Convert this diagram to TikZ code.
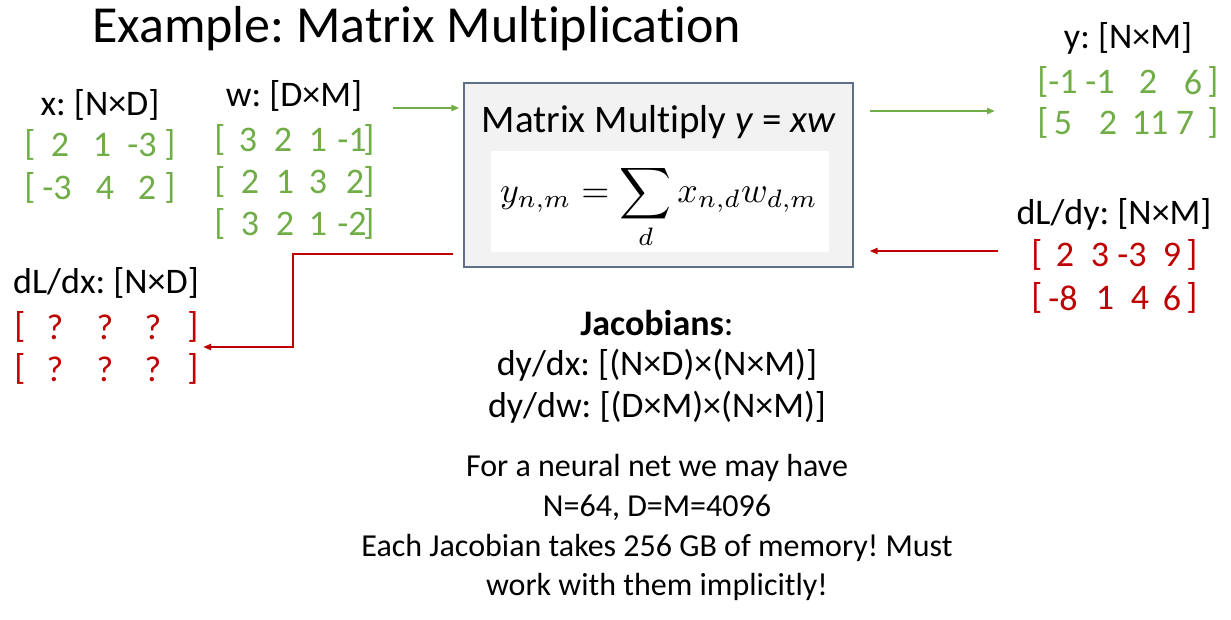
\documentclass[tikz,border=0pt]{standalone}
\usepackage{graphicx}
\usepackage{fontspec}
\setmainfont{Carlito}[Ligatures=NoCommon]
\usetikzlibrary{arrows.meta}
\definecolor{ggreen}{HTML}{70AD47}
\definecolor{rred}{HTML}{C00000}
\definecolor{boxline}{HTML}{5F6F8A}
\definecolor{boxfill}{HTML}{F2F2F2}
\frenchspacing
\begin{document}
\frenchspacing
\begin{tikzpicture}[x=1pt,y=-1pt,
  lbl/.style={font=\fontsize{36}{42}\selectfont, inner sep=0pt, anchor=center},
  gm/.style={lbl, text=ggreen},
  rm/.style={lbl, text=rred},
  jac/.style={font=\fontsize{36}{42}\selectfont, inner sep=0pt, anchor=center},
  note/.style={font=\fontsize{32}{38}\selectfont, inner sep=0pt, anchor=center},
  garrow/.style={draw=ggreen, line width=2pt, -{Triangle[length=8pt,width=6pt]}},
  rarrow/.style={draw=rred, line width=2pt, -{Triangle[length=8pt,width=6pt]}}]
\useasboundingbox (0,0) rectangle (1231,619);
\node[font=\fontsize{52}{60}\selectfont, inner sep=0pt, anchor=base west] (title) at (92,42) {Example: Matrix Multiplication};

% x
\node[lbl] (xl) at (100,105) {x: [N×D]};
\foreach \t/\xx [count=\i] in {{[}/30, 2/60, 1/102, -3/142, {]}/170}
  \node[gm, name=xa\i] at (\xx,145) {\t};
\foreach \t/\xx [count=\i] in {{[}/30, -3/57, 4/105, 2/147, {]}/170}
  \node[gm, name=xb\i] at (\xx,188) {\t};

% w
\node[lbl] (wl) at (294,96) {w: [D×M]};
\foreach \t/\xx [count=\i] in {{[}/220, 3/248, 2/283, 1/318, -1/352, {]}/369}
  \node[gm, name=wa\i] at (\xx,140) {\t};
\foreach \t/\xx [count=\i] in {{[}/220, 2/250, 1/285, 3/318, 2/355, {]}/369}
  \node[gm, name=wb\i] at (\xx,182) {\t};
\foreach \t/\xx [count=\i] in {{[}/220, 3/250, 2/285, 1/318, -2/352, {]}/369}
  \node[gm, name=wc\i] at (\xx,224) {\t};

% box
\node[draw=boxline, fill=boxfill, line width=1.2pt, minimum width=389pt, minimum height=184pt, inner sep=0pt] (box) at (658.5,175) {};
\node[fill=white, minimum width=338pt, minimum height=101pt, inner sep=0pt] (inner) at (660,201.5) {};
\node[font=\fontsize{39}{46}\selectfont, inner sep=0pt] (mm) at (659,122) {Matrix Multiply \textit{y} = \textit{xw}};
\node[inner sep=0pt] (formula) at (659,207) {\scalebox{3.6}{$\displaystyle y_{n,m}=\sum_d x_{n,d}w_{d,m}$}};

% y
\node[lbl] (yl) at (1128,38) {y: [N×M]};
\foreach \t/\xx [count=\i] in {{[}/1043, -1/1063, -1/1100, 2/1148, 6/1193, {]}/1213}
  \node[gm, name=ya\i] at (\xx,82) {\t};
\foreach \t/\xx [count=\i] in {{[}/1043, 5/1063, 2/1108, 11/1150, 7/1185, {]}/1213}
  \node[gm, name=yb\i] at (\xx,123) {\t};

% dL/dy
\node[lbl] (dyl) at (1114,214) {dL/dy: [N×M]};
\foreach \t/\xx [count=\i] in {{[}/1037, 2/1065, 3/1100, -3/1132, 9/1172, {]}/1192}
  \node[rm, name=dya\i] at (\xx,255) {\t};
\foreach \t/\xx [count=\i] in {{[}/1037, -8/1063, 1/1105, 4/1140, 6/1172, {]}/1192}
  \node[rm, name=dyb\i] at (\xx,298) {\t};

% dL/dx
\node[lbl] (dxl) at (106,283) {dL/dx: [N×D]};
\foreach \t/\xx [count=\i] in {{[}/20, ?/55, ?/105, ?/153, {]}/193}
  \node[rm, name=dxa\i] at (\xx,327) {\t};
\foreach \t/\xx [count=\i] in {{[}/20, ?/55, ?/105, ?/153, {]}/193}
  \node[rm, name=dxb\i] at (\xx,369) {\t};

% connectors
\coordinate (gin) at (393,108);
\draw[garrow] (gin) -- ([xshift=-4pt]gin -| box.west);
\coordinate (gout) at (870,111);
\coordinate (gend) at (995,111);
\draw[garrow] (gout) -- (gend);
\coordinate (rin) at (998,251);
\draw[rarrow] (rin) -- ([xshift=16pt]rin -| box.east);
\coordinate (rstart) at (453,254);
\coordinate (rcorner) at (293,254);
\coordinate (rend) at (203,347);
\draw[rarrow] (rstart) -- (rcorner) |- (rend);

% Jacobians
\node[jac] (j1) at (657,323) {\textbf{Jacobians}:};
\node[jac] (j2) at (657,365) {dy/dx: [(N×D)×(N×M)]};
\node[jac] (j3) at (657,407) {dy/dw: [(D×M)×(N×M)]};

% note
\node[note] (n1) at (657,468) {For a neural net we may have};
\node[note] (n2) at (657,508) {N=64, D=M=4096};
\node[note] (n3) at (657,548) {Each Jacobian takes 256 GB of memory! Must};
\node[note] (n4) at (657,587) {work with them implicitly!};
\end{tikzpicture}
\end{document}
